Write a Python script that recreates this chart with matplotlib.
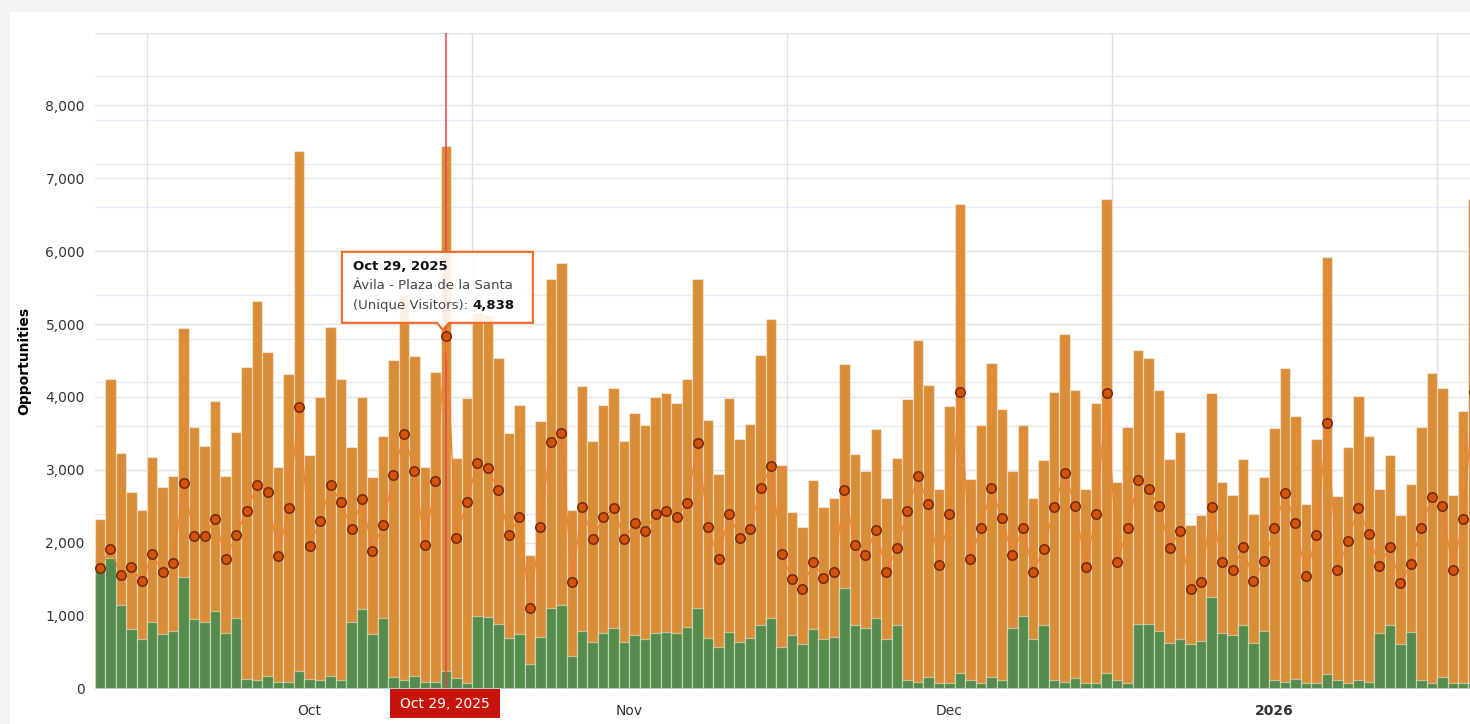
import matplotlib
matplotlib.use('Agg')
import matplotlib.pyplot as plt
from matplotlib.patches import Polygon, Rectangle
from matplotlib.transforms import IdentityTransform
import numpy as np
import pandas as pd

# daily data, Sep 26 2025 .. Feb 4 2026
dates = pd.date_range('2025-09-26', '2026-02-04', freq='D')

opps_total = [
    2330, 4240, 3230, 2700, 2450,
    3180, 2770, 2910, 4940, 3590, 3330, 3950, 2910, 3520, 4410, 5310, 4620, 3040, 4320, 7370, 3200, 4000,
    4960, 4250, 3315, 4000, 2895, 3470, 4510, 5400, 4560, 3040, 4345, 7440, 3160, 3980,
    5150, 5120, 4540, 3500, 3895, 1835, 3670, 5620,
    5840, 2450, 4150, 3395, 3895, 4120, 3395, 3775, 3610, 4000, 4050, 3915, 4240, 5620, 3690, 2940,
    3980, 3425, 3630, 4580, 5075, 3060,
    2420, 2210, 2855, 2495, 2620, 4450, 3215, 2990, 3560, 2620, 3165, 3970, 4785, 4170, 2740, 3880,
    6645, 2880, 3610, 4460, 3835,
    2990, 3610, 2610, 3135, 4065, 4865, 4100, 2740, 3915, 6715,
    2835, 3590, 4650, 4530, 4100, 3150, 3515, 2240, 2375, 4050, 2835,
    2655, 3150, 2400, 2895, 3575, 4395, 3745, 2535, 3425, 5925, 2640, 3315, 4015, 3470, 2740, 3200,
    2380, 2810, 3590, 4325,
    4125, 2655, 3810, 6715,
]

opps_green = [
    1630, 1790, 1140, 820, 680,
    910, 750, 790, 1530, 960, 910, 1070, 755, 965, 130, 110, 165, 85, 85, 245, 130, 110,
    165, 120, 910, 1090, 745, 965, 155, 110, 165, 85, 85, 245, 140, 70,
    1000, 980, 880, 695, 745, 340, 705, 1110,
    1150, 450, 795, 640, 755, 830, 640, 730, 675, 755, 770, 755, 845, 1110, 695, 565,
    770, 640, 695, 870, 965, 575,
    730, 610, 815, 680, 710, 1380, 870, 835, 965, 680, 870, 120, 95, 155, 80, 80,
    215, 120, 80, 155, 110,
    830, 990, 680, 870, 110, 90, 145, 80, 80, 215,
    110, 80, 890, 890, 795, 625, 680, 610, 655, 1255, 755,
    730, 870, 625, 795, 110, 90, 130, 80, 70, 205, 120, 70, 120, 90, 765, 870,
    610, 780, 120, 70,
    155, 80, 80, 80,
]

unique_visitors = [
    1660, 1920, 1560, 1670, 1470,
    1840, 1600, 1720, 2820, 2090, 2090, 2330, 1775, 2110, 2430, 2790, 2690, 1820, 2470, 3865, 1960, 2300,
    2795, 2555, 2190, 2595, 1890, 2250, 2930, 3490, 2980, 1970, 2840, 4838, 2060, 2565,
    3100, 3020, 2725, 2100, 2355, 1110, 2215, 3380,
    3505, 1465, 2485, 2045, 2355, 2470, 2045, 2265, 2160, 2400, 2430, 2355, 2540, 3370, 2215, 1775,
    2400, 2070, 2185, 2745, 3050, 1840,
    1500, 1365, 1735, 1520, 1600, 2725, 1970, 1825, 2180, 1600, 1930, 2430, 2910, 2525, 1690, 2390,
    4070, 1775, 2200, 2745, 2340,
    1825, 2200, 1600, 1915, 2490, 2960, 2500, 1670, 2390, 4055,
    1735, 2200, 2865, 2740, 2500, 1930, 2160, 1360, 1465, 2485, 1735,
    1620, 1940, 1480, 1750, 2200, 2680, 2265, 1550, 2105, 3645, 1620, 2025, 2475, 2115, 1680, 1945,
    1445, 1705, 2200, 2630,
    2505, 1620, 2325, 4070,
]

month_starts = ['2025-10-01', '2025-11-01', '2025-12-01', '2026-01-01', '2026-02-01']
month_labels = ['Oct', 'Nov', 'Dec', '2026']
y_ticks = [0, 1000, 2000, 3000, 4000, 5000, 6000, 7000, 8000]

hover_date = '2025-10-29'
hover_place = 'Ávila - Plaza de la Santa'
hover_series = '(Unique Visitors)'

ORANGE = '#da8d37'
GREEN = '#558b4b'
LINE = '#f47c30'
TEXT = '#333333'

W, H = 1470, 724
fig = plt.figure(figsize=(W / 100, H / 100), dpi=100, facecolor='#f4f4f4')
fig.patches.append(Rectangle((10 / W, 0), 1, (H - 12) / H, transform=fig.transFigure,
                             facecolor='white', edgecolor='none', zorder=-10))

# plot area: 0 at y=688.5px, 9000 at y=32.5px, one day = 10.488px
day_px = 10.488
left_px, bottom_px, top_px = 94.56, 688.5, 32.5
n = len(dates)
ax = fig.add_axes([left_px / W, (H - bottom_px) / H, n * day_px / W, (bottom_px - top_px) / H])
ax.set_facecolor('none')

x = np.arange(n)
ax.set_xlim(-0.5, n - 0.5)
ax.set_ylim(0, 9000)

# gridlines: secondary (lavender) axis lines and primary grey lines
for v in np.arange(0, 9001, 600):
    ax.axhline(v, color='#e9e9f8', lw=1, zorder=0)
for v in np.arange(1000, 9001, 1000):
    ax.axhline(v, color='#e4e4e4', lw=1, zorder=0)

idx = {d: i for i, d in enumerate(dates.strftime('%Y-%m-%d'))}
ms = [idx[m] for m in month_starts]
for m in ms:
    ax.axvline(m - 0.5, color='#e0e0ea', lw=1, zorder=0)

ax.bar(x, opps_total, width=1.0, color=ORANGE, edgecolor=(1, 1, 1, 0.45), linewidth=0.9, zorder=2)
ax.bar(x, opps_green, width=1.0, color=GREEN, edgecolor=(1, 1, 1, 0.45), linewidth=0.9, zorder=2)

hi = idx[hover_date]
ax.axvline(hi, color='#e2474e', lw=1.1, zorder=3)

ax.plot(x, unique_visitors, color=LINE, lw=0.9, zorder=4)
ax.plot(x, unique_visitors, 'o', ms=6.8, mfc='#d4520a', mec='#74290a', mew=1.1, zorder=5, clip_on=False)

ax.axhline(0, color='#ccd6eb', lw=1.2, zorder=6)

for s in ax.spines.values():
    s.set_visible(False)
ax.set_yticks(y_ticks)
ax.set_yticklabels([f'{v:,}' for v in y_ticks], fontsize=10, color=TEXT)
mids = [(ms[i] + ms[i + 1]) / 2 - 0.5 for i in range(len(ms) - 1)]
ax.set_xticks(mids)
ax.set_xticklabels(month_labels, fontsize=10, color=TEXT)
ax.get_xticklabels()[-1].set_fontweight('bold')
ax.tick_params(length=0)
ax.tick_params(axis='y', pad=7)
ax.tick_params(axis='x', pad=11)
ax.set_ylabel('Opportunities', fontsize=10, fontweight='bold', color='black', labelpad=10)

# hover tooltip, anchored on the hovered point
fig.canvas.draw()
r = fig.canvas.get_renderer()
px, py = ax.transData.transform((hi, unique_visitors[hi]))
L, R, B, T = px - 104, px + 87, py + 13, py + 84
tip = Polygon([(L, B), (px - 9, B), (px - 3, py + 6), (px + 3, B), (R, B), (R, T), (L, T)],
              closed=True, transform=IdentityTransform(), facecolor=(1, 1, 1, 0.88),
              edgecolor='#f06a25', lw=1.5, zorder=20)
fig.patches.append(tip)
hv = pd.Timestamp(hover_date)
fig.text(px - 93, py + 69, f'{hv:%b} {hv.day}, {hv.year}', transform=IdentityTransform(),
         fontsize=9.5, fontweight='bold', color='#111111', va='center', zorder=21)
fig.text(px - 93, py + 50, hover_place, transform=IdentityTransform(),
         fontsize=9.5, color='#444444', va='center', zorder=21)
t1 = fig.text(px - 93, py + 30, hover_series + ': ', transform=IdentityTransform(),
              fontsize=9.5, color='#444444', va='center', zorder=21)
ext = t1.get_window_extent(r)
fig.text(ext.x1, py + 30, f'{unique_visitors[hi]:,}', transform=IdentityTransform(),
         fontsize=9.5, fontweight='bold', color='#111111', va='center', zorder=21)

# crosshair label on the x axis
ax_b = H - bottom_px
fig.patches.append(Rectangle((px - 56, ax_b - 29.5), 110, 29.5, transform=IdentityTransform(),
                             facecolor='#c8130d', edgecolor='none', zorder=20))
fig.text(px - 1, ax_b - 15, f'{hv:%b} {hv.day}, {hv.year}', transform=IdentityTransform(),
         fontsize=10, color='white', ha='center', va='center', zorder=21)

fig.savefig('out.png', dpi=100, facecolor=fig.get_facecolor())
